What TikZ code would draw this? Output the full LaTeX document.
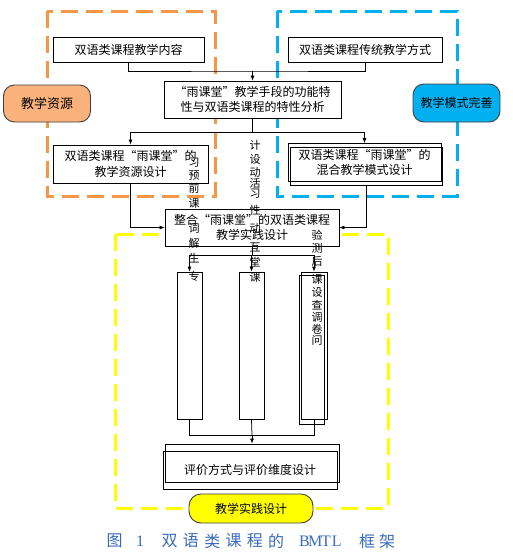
\documentclass[tikz,border=0pt]{standalone}
\usepackage{fontspec}
\newfontfamily\cjk{Noto Sans CJK SC}
\newfontfamily\capserif{Liberation Serif}
\usetikzlibrary{arrows.meta}
\definecolor{orangeD}{HTML}{F79646}
\definecolor{blueD}{HTML}{00B0F0}
\definecolor{yellowD}{HTML}{FFFF00}
\definecolor{orangeF}{HTML}{F9B27C}
\definecolor{capblue}{HTML}{3A6BC0}
\definecolor{edgegray}{HTML}{404040}
\begin{document}
\begin{tikzpicture}[x=1pt,y=-1pt,
 box/.style={draw=black, fill=white, line width=0.75pt, inner sep=0pt, align=center, font=\cjk\fontsize{12}{15.5}\selectfont},
 openbox/.style={draw=black, line width=0.75pt, inner sep=0pt, align=center, font=\cjk\fontsize{12}{15.5}\selectfont},
 frame/.style={line width=3pt, dash pattern=on 17pt off 8pt},
 tag/.style={draw=edgegray, line width=0.9pt, rounded corners=11pt, inner sep=0pt, font=\cjk\fontsize{12}{14}\selectfont},
 conn/.style={line width=0.75pt},
 arr/.style={conn, -{Latex[length=5pt,width=4pt]}},
 vch/.style={inner sep=0pt, font=\cjk\fontsize{11}{11}\selectfont},
 captxt/.style={inner sep=0pt, text=capblue, font=\cjk\fontsize{16}{16}\selectfont},
 caplat/.style={inner sep=0pt, text=capblue, font=\capserif\fontsize{16}{16}\selectfont},
]
\useasboundingbox[fill=white] (0,0) rectangle (512,557);

% dashed frames
\draw[frame, orangeD] (47,11) rectangle (215,196);
\draw[frame, blueD] (277,11) rectangle (457,196);
\draw[frame, yellowD] (115,234) rectangle (388,508);

% boxes
\node[box, minimum width=151pt, minimum height=25pt] (b1) at (128.5,49.5) {双语类课程教学内容};
\node[box, minimum width=154pt, minimum height=25pt] (b2) at (365,49.5) {双语类课程传统教学方式};
\node[box, minimum width=177pt, minimum height=37pt] (b3) at (252.5,99.5) {“雨课堂”教学手段的功能特\\性与双语类课程的特性分析};
\node[box, minimum width=155pt, minimum height=38pt] (b4) at (130.5,164) {双语类课程“雨课堂”的\\教学资源设计};
\node[openbox, minimum width=152pt, minimum height=38pt] (b5b) at (366,166) {};
\node[openbox, minimum width=153pt, minimum height=38pt] (b5) at (364.5,162.5) {双语类课程“雨课堂”的\\混合教学模式设计};
\node[box, minimum width=174pt, minimum height=37pt] (b6) at (252,227.5) {整合“雨课堂”的双语类课程\\教学实践设计};

\node[box, minimum width=25pt, minimum height=147pt] (c1) at (189.5,345.5) {};
\node[box, minimum width=25pt, minimum height=147pt] (c2) at (251.5,345.5) {};
\node[openbox, minimum width=25pt, minimum height=149pt] (c3b) at (311.5,349.5) {};
\node[openbox, minimum width=26pt, minimum height=147pt] (c3) at (314,345.5) {};

\node[openbox, minimum width=174pt, minimum height=38pt] (b7a) at (252,463) {};
\node[openbox, minimum width=174pt, minimum height=38pt] (b7) at (250,470) {评价方式与评价维度设计};

% tags
\node[tag, fill=orangeF, minimum width=87pt, minimum height=37pt, font=\cjk\fontsize{13}{14}\selectfont] (L1) at (47,103.5) {教学资源};
\node[tag, fill=blueD, minimum width=87pt, minimum height=38pt] (L2) at (456.5,103) {教学模式完善};
\node[tag, fill=yellowD, minimum width=124pt, minimum height=29pt, rounded corners=12pt] (L3) at (251,508.5) {教学实践设计};

% connectors
\coordinate (j1) at (252.5,71);
\coordinate (j2) at (252.5,132);
\coordinate (j3) at (252,255);
\coordinate (j4) at (252,435);
\draw[conn] (b1.south) |- (j1) -| (b2.south);
\draw[arr] (j1) -- (b3.north);
\draw[conn] (b3.south) -- (j2);
\draw[arr] (j2) -| (b4.north);
\draw[arr] (j2) -| (b5.north);
\draw[arr] (b4.south) |- (b6.west);
\draw[arr] (b5b.south) |- (b6.east);
\draw[conn] (b6.south) -- (j3);
\draw[arr] (j3) -| (c1.north);
\draw[arr] (j3) -| (c2.north);
\draw[arr] (j3) -| (c3.north);
\draw[conn] (c1.south) |- (j4);
\draw[conn] (c3.south) |- (j4);
\draw[conn] (c2.south) -- (j4);
\draw[arr] (j4) -- (b7a.north);

% vertical texts
\foreach \c/\y [count=\i] in {习/163,预/176,前/188,课/203,词/228,解/243,生/258,专/276}
  \node[vch] (va\i) at (194,\y) {\c};
\foreach \c/\y [count=\i] in {计/145,设/159,动/172,活/183,习/194,性/210,动/228,互/247,堂/262,课/277}
  \node[vch] (vb\i) at (255,\y) {\c};
\foreach \c/\y [count=\i] in {验/235,测/248,后/261,课/279,设/292,查/305,调/317,卷/329,问/340}
  \node[vch] (vc\i) at (317,\y) {\c};

% caption
\node[captxt] (k1) at (114.5,541) {图};
\node[caplat] (k2) at (140,541) {1};
\foreach \c [count=\i] in {双,语,类,课,程,的}
  \node[captxt] (kc\i) at ({159+21.3*(\i-0.5)},541) {\c};
\foreach \c [count=\i] in {B,M,T,L}
  \node[caplat] (kl\i) at ({299+10.8*(\i-0.5)},541) {\c};
\node[captxt] (k3) at (367,541) {框};
\node[captxt] (k4) at (387,541) {架};
\end{tikzpicture}
\end{document}
